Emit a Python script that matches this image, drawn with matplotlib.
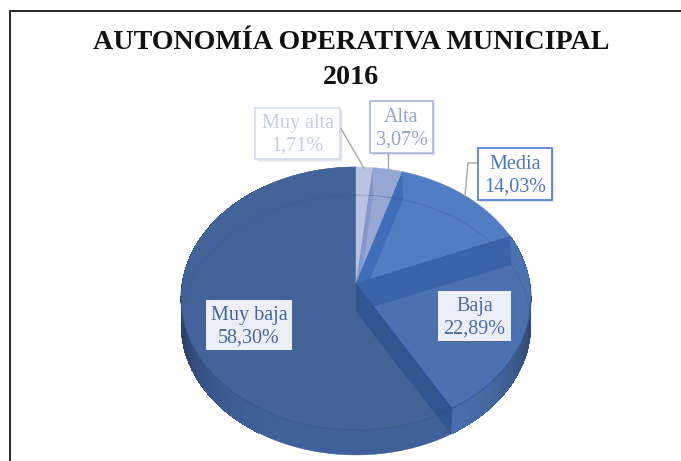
import matplotlib
matplotlib.use("Agg")
import matplotlib.pyplot as plt
from matplotlib.colors import to_rgb
from matplotlib.patches import Polygon, Rectangle
import numpy as np

plt.rcParams["font.family"] = ["Liberation Serif", "DejaVu Serif"]

# datos del grafico
categorias = ["Muy alta", "Alta", "Media", "Baja", "Muy baja"]
valores = [1.71, 3.07, 14.03, 22.89, 58.30]
titulo = ["AUTONOMÍA OPERATIVA MUNICIPAL", "2016"]

# colores de cada porcion: cara, pared, lateral
cara = ["#bac4e2", "#96a7d3", "#527dc3", "#4b71b0", "#446399"]
pared = ["#8a9bce", "#8496cc", "#3f6db8", "#3a64a9", "#30558f"]
lateral = ["#8a9bce", "#8496cc", "#3f6db8", "#4a6fac", "#40609a"]

# caja de cada etiqueta: x0, y0, x1, y1 en pixeles, color texto, borde, fondo
cajas = [
    (255, 108, 340, 159, "#c4cce6", "#d5dbef", "#ffffff"),
    (370, 101, 433, 153, "#93a3d2", "#a9b6dc", "#ffffff"),
    (478, 148, 552, 200, "#4a78c0", "#4a7ccb", "#ffffff"),
    (438, 291, 511, 341, "#4a6ba8", None, "#eceff8"),
    (206, 300, 292, 350, "#46659d", None, "#eceff8"),
]
guias = [
    ([340, 364], [127, 168]),
    ([388, 388], [153, 170]),
    ([478, 468, 465], [163, 163, 196]),
]

CX = 356


def arriba(frac):
    # cara superior con perspectiva
    t = 2 * np.pi * np.asarray(frac)
    u, v = np.sin(t), np.cos(t)
    w = 1 + 0.118 * v
    return CX + 173.8 * u / w, 283 - 129.7 * v / w


def abajo(frac):
    # cara inferior de la torta
    t = 2 * np.pi * np.asarray(frac)
    u, v = np.sin(t), np.cos(t)
    w = 1 + 0.1 * v
    return CX + 174 * u / w, 312 - 128.7 * v / w


def arco(f, a, b, n=80):
    x, y = f(np.linspace(a, b, n))
    return np.column_stack([x, y])


fig = plt.figure(figsize=(6.81, 4.61), dpi=100)
ax = fig.add_axes([0, 0, 1, 1])
ax.set_xlim(0, 681)
ax.set_ylim(461, 0)
ax.axis("off")

# marco
ax.plot([681, 10, 10], [11, 11, 461], color="#1a1a1a", lw=1.3, solid_joinstyle="miter")

for i, linea in enumerate(titulo):
    ax.text(351, 42.5 + 35 * i, linea, ha="center", va="center", fontsize=20.2,
            fontweight="bold", color="#111111")

lim = np.concatenate([[0], np.cumsum(valores) / 100])

# lateral: base lisa por porcion y sombra en tiras hacia los bordes
for idx in [3, 4]:
    pts = np.vstack([arco(arriba, lim[idx], lim[idx + 1]), arco(abajo, lim[idx + 1], lim[idx])])
    ax.add_patch(Polygon(pts, fc=lateral[idx], ec=lateral[idx], lw=0.3, zorder=2))
pasos = np.linspace(lim[3], lim[5], 140)
for a, b in zip(pasos[:-1], pasos[1:]):
    idx = 3 if b <= lim[4] else 4
    x_rel = (abajo(a)[0] - CX) / 175
    sombra = 1 - 0.35 * abs(x_rel) ** 6
    if sombra > 0.99:
        continue
    color = tuple(c * sombra for c in to_rgb(lateral[idx]))
    pts = np.vstack([arco(arriba, a, b, 3), arco(abajo, b, a, 3)])
    ax.add_patch(Polygon(pts, fc=color, ec="none", antialiased=False, zorder=2.5))

# caras superiores
centro = np.array([[CX, 283]])
for i in [4, 3, 2, 1, 0]:
    pts = np.vstack([centro, arco(arriba, lim[i], lim[i + 1])])
    ax.add_patch(Polygon(pts, fc=cara[i], ec=cara[i], lw=0.3, zorder=3))

# linea tenue de la cara inferior vista a traves de la torta
x, y = abajo(np.linspace(-0.25, 0.25, 120))
ax.plot(x, y, color="#3a5888", lw=0.6, alpha=0.4, zorder=5)
x, y = arriba(np.linspace(0.25, 0.75, 120))
ax.plot(x, y, color="#2f4d80", lw=0.7, alpha=0.6, zorder=5)

# paredes internas entre porciones
for i in [0, 1, 2]:
    f = lim[i + 1]
    pts = np.array([[CX, 283], arriba(f), abajo(f), [CX, 312]])
    ax.add_patch(Polygon(pts, fc=pared[i + 1], ec="none", zorder=4))

# la pared Baja / Muy baja se superpone a las demas
pts = np.array([[CX, 283], arriba(lim[4]), abajo(lim[4]), [CX, 312]])
ax.add_patch(Polygon(pts, fc=pared[4], ec="none", zorder=4.5))

# guias
for gx, gy in guias:
    ax.plot(gx, gy, color="#a8a8a8", lw=1, zorder=6)

# etiquetas
for nombre, val, caja in zip(categorias, valores, cajas):
    x0, y0, x1, y1, ctxt, cborde, cfondo = caja
    for k in range(1, 5):
        ax.add_patch(Rectangle((x0 + k * 0.8, y0 + k * 0.8), x1 - x0, y1 - y0,
                               fc="#5a6f96", ec="none", alpha=0.06, zorder=6.5))
    ax.add_patch(Rectangle((x0, y0), x1 - x0, y1 - y0, fc=cfondo,
                           ec=cborde if cborde else "none", lw=1.2, zorder=7))
    txt = f"{nombre}\n{val:.2f}%".replace(".", ",")
    ax.text((x0 + x1) / 2, (y0 + y1) / 2 + 1.5, txt, ha="center", va="center",
            fontsize=14.5, color=ctxt, linespacing=1.28, zorder=8)

fig.savefig("out.png", dpi=100, facecolor="white")
